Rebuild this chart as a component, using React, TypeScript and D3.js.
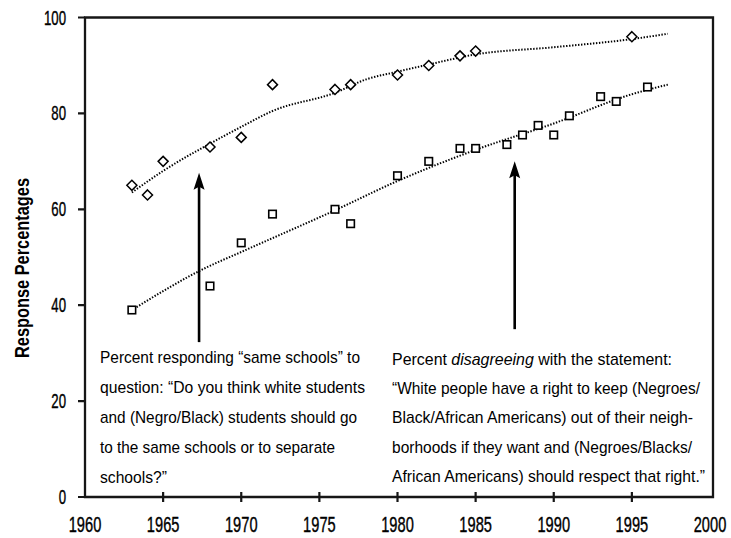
import React from "react";
import * as d3 from "d3";

const xTicks = [1960, 1965, 1970, 1975, 1980, 1985, 1990, 1995, 2000];
const yTicks = [0, 20, 40, 60, 80, 100];

const schoolYears = [1963, 1964, 1965, 1968, 1970, 1972, 1976, 1977, 1980, 1982, 1984, 1985, 1995];
const schoolValues = [65, 63, 70, 73, 75, 86, 85, 86, 88, 90, 92, 93, 96];

const neighYears = [1963, 1968, 1970, 1972, 1976, 1977, 1980, 1982, 1984, 1985, 1987, 1988, 1989, 1990, 1991, 1993, 1994, 1996];
const neighValues = [39, 44, 53, 59, 60, 57, 67, 70, 72.7, 72.7, 73.5, 75.5, 77.5, 75.5, 79.5, 83.5, 82.5, 85.5];

const schoolFitYears = [1963, 1965, 1968, 1970, 1972, 1976, 1978, 1980, 1982, 1985, 1990, 1995, 1997.3];
const schoolFitValues = [63.5, 68, 73.7, 77.2, 80.5, 84.3, 87.1, 88.7, 90.2, 92.3, 93.8, 95.5, 96.6];

const neighFitYears = [1963.3, 1967.6, 1970, 1976, 1980, 1985, 1990, 1995, 1997.3];
const neighFitValues = [39.6, 47.6, 51.1, 59.8, 65.9, 72.4, 77.9, 84, 86];

// arrows: [year, fromValue, tipValue]
const arrowLeft = [1967.3, 32.3, 67.6];
const arrowRight = [1987.5, 35, 70];

const leftNote = [
  "Percent responding \u201csame schools\u201d to",
  "question: \u201cDo you think white students",
  "and (Negro/Black) students should go",
  "to the same schools or to separate",
  "schools?\u201d",
];
const leftNoteWidths = [260, 265, 257, 235, 67];

const rightNote = [
  "\u201cWhite people have a right to keep (Negroes/",
  "Black/African Americans) out of their neigh-",
  "borhoods if they want and (Negroes/Blacks/",
  "African Americans) should respect that right.\u201d",
];
const rightNoteWidths = [280, 308, 301, 300, 313];

const yTitle = "Response Percentages";

export default function App() {
  const W = 731;
  const H = 538;
  const x = d3.scaleLinear().domain([1960, 2000]).range([85, 710]);
  const y = d3.scaleLinear().domain([0, 100]).range([497, 17.5]);

  const fitLine = d3
    .line()
    .x((d: any) => x(d[0]))
    .y((d: any) => y(d[1]))
    .curve(d3.curveMonotoneX);

  const schoolFit: any = schoolFitYears.map((yr, i) => [yr, schoolFitValues[i]]);
  const neighFit: any = neighFitYears.map((yr, i) => [yr, neighFitValues[i]]);

  const font = "'Liberation Sans', Arial, sans-serif";
  const ink = "#161616";

  const x0 = x(1960);
  const xR = 713;
  const yT = y(100);
  const yB = y(0);

  const arrow = (a: number[], key: string) => {
    const ax = x(a[0]);
    const yb = y(a[1]);
    const yt = y(a[2]);
    return (
      <g key={key}>
        <path d={`M${ax},${yb} L${ax},${yt + 12}`} stroke="#000" strokeWidth={2.6} fill="none" />
        <path d={`M${ax},${yt} L${ax - 5.5},${yt + 17} L${ax},${yt + 14} L${ax + 5.5},${yt + 17} Z`} fill="#000" />
      </g>
    );
  };

  return (
    <svg width={W} height={H} style={{ position: "absolute", left: 0, top: 0 }}>
      {/* frame and ticks */}
      <path
        d={`M${x0},${yT} L${xR},${yT} L${xR},${yB} L${x0},${yB} Z`}
        fill="none"
        stroke={ink}
        strokeWidth={2.3}
      />
      <path
        d={yTicks.map((t) => `M${x0 - 7},${y(t)} L${x0},${y(t)}`).join(" ")}
        fill="none"
        stroke={ink}
        strokeWidth={2.2}
      />
      <path
        d={xTicks
          .filter((t) => t > 1960 && t < 2000)
          .map((t) => `M${x(t)},${yB - 5} L${x(t)},${yB + 5}`)
          .join(" ")}
        fill="none"
        stroke={ink}
        strokeWidth={2.2}
      />

      {/* y tick labels */}
      {yTicks.map((t) => (
        <text
          key={"y" + t}
          transform={`translate(66,${y(t) + 7}) scale(0.66,1)`}
          textAnchor="end"
          fontFamily={font}
          fontSize={20}
          fill="#000"
          stroke="#000"
          strokeWidth={0.4}
        >
          {t}
        </text>
      ))}

      {/* x tick labels */}
      {xTicks.map((t) => (
        <text
          key={"x" + t}
          transform={`translate(${x(t)},532) scale(0.68,1)`}
          textAnchor="middle"
          fontFamily={font}
          fontSize={21.5}
          fill="#000"
          stroke="#000"
          strokeWidth={0.4}
        >
          {t}
        </text>
      ))}

      {/* y title */}
      <text
        transform={`translate(29,268) rotate(-90)`}
        textAnchor="middle"
        fontFamily={font}
        fontSize={19.5}
        fontWeight="bold"
        textLength={180}
        lengthAdjust="spacingAndGlyphs"
        fill="#000"
      >
        {yTitle}
      </text>

      {/* fitted lines */}
      <path d={fitLine(schoolFit) || ""} fill="none" stroke="#000" strokeWidth={2} strokeDasharray="1.4 1.6" />
      <path d={fitLine(neighFit) || ""} fill="none" stroke="#000" strokeWidth={2} strokeDasharray="1.4 1.6" />

      {/* diamonds */}
      {schoolYears.map((yr, i) => {
        const cx = x(yr);
        const cy = y(schoolValues[i]);
        const r = 5;
        return (
          <path
            key={"d" + i}
            d={`M${cx},${cy - r} L${cx + r},${cy} L${cx},${cy + r} L${cx - r},${cy} Z`}
            fill="#fff"
            stroke="#000"
            strokeWidth={1.5}
          />
        );
      })}

      {/* squares */}
      {neighYears.map((yr, i) => {
        const cx = x(yr);
        const cy = y(neighValues[i]);
        const s = 7.5;
        return (
          <rect
            key={"s" + i}
            x={cx - s / 2}
            y={cy - s / 2}
            width={s}
            height={s}
            fill="#fff"
            stroke="#000"
            strokeWidth={1.6}
          />
        );
      })}

      {/* arrows */}
      {arrow(arrowLeft, "al")}
      {arrow(arrowRight, "ar")}

      {/* left annotation */}
      {leftNote.map((line, i) => (
        <text
          key={"ln" + i}
          x={100}
          y={363 + 30 * i}
          fontFamily={font}
          fontSize={17}
          textLength={leftNoteWidths[i]}
          lengthAdjust="spacingAndGlyphs"
          fill="#000"
        >
          {line}
        </text>
      ))}

      {/* right annotation */}
      <text
        x={392}
        y={365}
        fontFamily={font}
        fontSize={17}
        textLength={rightNoteWidths[0]}
        lengthAdjust="spacingAndGlyphs"
        fill="#000"
      >
        <tspan>Percent </tspan>
        <tspan fontStyle="italic">disagreeing</tspan>
        <tspan> with the statement:</tspan>
      </text>
      {rightNote.map((line, i) => (
        <text
          key={"rn" + i}
          x={392}
          y={365 + 29.2 * (i + 1)}
          fontFamily={font}
          fontSize={17}
          textLength={rightNoteWidths[i + 1]}
          lengthAdjust="spacingAndGlyphs"
          fill="#000"
        >
          {line}
        </text>
      ))}
    </svg>
  );
}
